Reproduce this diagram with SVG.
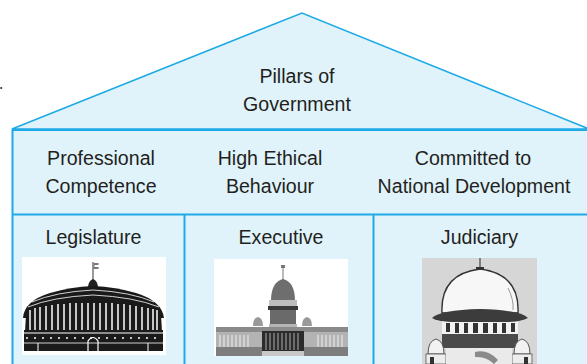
<svg xmlns="http://www.w3.org/2000/svg" width="587" height="364" viewBox="0 0 587 364">
<style>
.t{font-family:"Liberation Sans",Arial,sans-serif;font-size:19.6px;fill:#231f20;text-anchor:middle}
.frame{fill:#e0f3fb;stroke:#1eaae7;stroke-width:2}
.line{stroke:#1eaae7;stroke-width:2;fill:none}
</style>
<rect width="587" height="364" fill="#ffffff"/>
<circle cx="1.2" cy="88" r="1.1" fill="#333"/>
<g id="roof">
<polygon points="12,129 302,13 589,129" fill="#e0f3fb" stroke="#1eaae7" stroke-width="1.6"/>
<text class="t" x="297" y="83">Pillars of</text>
<text class="t" x="297" y="111">Government</text>
</g>
<g id="body">
<rect class="frame" x="12.5" y="130" width="580" height="240"/>
</g>
<g id="connectors">
<line class="line" x1="12" y1="214.5" x2="587" y2="214.5"/>
<line class="line" x1="184.5" y1="214" x2="184.5" y2="364"/>
<line class="line" x1="373.5" y1="214" x2="373.5" y2="364"/>
</g>
<g id="value-professional">
<text class="t" x="101" y="165">Professional</text>
<text class="t" x="101" y="193">Competence</text>
</g>
<g id="value-ethical">
<text class="t" x="270" y="165">High Ethical</text>
<text class="t" x="270" y="193">Behaviour</text>
</g>
<g id="value-committed">
<text class="t" x="473" y="165">Committed to</text>
<text class="t" x="474" y="193">National Development</text>
</g>
<g id="legislature">
<text class="t" x="93.5" y="244">Legislature</text>
<rect x="22" y="257" width="144" height="98" fill="#ffffff"/>
<line x1="93" y1="262" x2="93" y2="282" stroke="#555" stroke-width="1.2"/>
<path d="M93.5 263 h5 v2 h-4 v2 h4 v2 h-5 z" fill="#777"/>
<path d="M88 288 Q88 281 93 279 Q98 281 98 288 Z" fill="#222"/>
<path d="M23 318 Q24 301 50 293 Q70 287 93 286 Q116 287 136 293 Q162 301 164 318 Z" fill="#1a1a1a"/>
<path d="M32 302 Q55 292 93 290 Q131 292 154 302" stroke="#fff" stroke-width="0.8" fill="none"/>
<path d="M28 307 Q52 297 93 295 Q134 297 159 307" stroke="#fff" stroke-width="0.8" fill="none"/>
<path d="M26 314 Q28 305 93 302 Q158 305 161 314 L162 332 L25 332 Z" fill="#1a1a1a"/>
<g stroke="#fff" stroke-width="1.5">
<line x1="30" y1="310" x2="30" y2="330"/><line x1="35" y1="308" x2="35" y2="330"/><line x1="40" y1="307" x2="40" y2="330"/><line x1="46" y1="306" x2="46" y2="330"/><line x1="52" y1="305" x2="52" y2="330"/><line x1="58" y1="304" x2="58" y2="330"/><line x1="64" y1="304" x2="64" y2="330"/><line x1="70" y1="303" x2="70" y2="330"/><line x1="76" y1="303" x2="76" y2="330"/><line x1="82" y1="303" x2="82" y2="330"/><line x1="88" y1="303" x2="88" y2="330"/><line x1="94" y1="303" x2="94" y2="330"/><line x1="100" y1="303" x2="100" y2="330"/><line x1="106" y1="303" x2="106" y2="330"/><line x1="112" y1="303" x2="112" y2="330"/><line x1="118" y1="304" x2="118" y2="330"/><line x1="124" y1="304" x2="124" y2="330"/><line x1="130" y1="305" x2="130" y2="330"/><line x1="136" y1="306" x2="136" y2="330"/><line x1="142" y1="307" x2="142" y2="330"/><line x1="148" y1="308" x2="148" y2="330"/><line x1="153" y1="309" x2="153" y2="330"/><line x1="157" y1="310" x2="157" y2="330"/>
</g>
<rect x="24" y="330" width="139" height="21" fill="#1a1a1a"/>
<line x1="24" y1="333" x2="163" y2="333" stroke="#fff" stroke-width="1"/>
<line x1="26" y1="338" x2="161" y2="338" stroke="#fff" stroke-width="1.5" stroke-dasharray="2 6"/>
<line x1="24" y1="343" x2="163" y2="343" stroke="#fff" stroke-width="0.8"/>
<path d="M88 351 V341 Q93 334 98 341 V351" stroke="#fff" stroke-width="1.2" fill="none"/>
<line x1="38" y1="343" x2="38" y2="351" stroke="#fff" stroke-width="1"/>
<line x1="148" y1="343" x2="148" y2="351" stroke="#fff" stroke-width="1"/>
</g>
<g id="executive">
<text class="t" x="281" y="244">Executive</text>
<rect x="214" y="259" width="134" height="97" fill="#ffffff"/>
<line x1="283" y1="265" x2="283" y2="280" stroke="#777" stroke-width="1"/>
<path d="M281 265 h4 v3 h-4 z" fill="#777"/>
<path d="M271 301 Q271 282 283 279 Q295 282 295 301 Z" fill="#6e6e6e"/>
<rect x="269" y="300" width="28" height="6" fill="#bdbdbd"/>
<rect x="268" y="306" width="30" height="4" fill="#3a3a3a"/>
<rect x="270" y="310" width="26" height="14" fill="#6a6a6a"/>
<rect x="269" y="324" width="28" height="8" fill="#b5b5b5"/>
<path d="M253 326 Q253 318 258 317 Q263 318 263 326 Z" fill="#999"/>
<path d="M302 326 Q302 318 307 317 Q312 318 312 326 Z" fill="#999"/>
<rect x="216" y="327" width="132" height="5" fill="#8a8a8a"/>
<rect x="216" y="332" width="132" height="24" fill="#b3b3b3"/>
<g stroke="#f0f0f0" stroke-width="1">
<line x1="220" y1="335" x2="220" y2="347"/><line x1="224" y1="335" x2="224" y2="347"/><line x1="228" y1="335" x2="228" y2="347"/><line x1="232" y1="335" x2="232" y2="347"/><line x1="236" y1="335" x2="236" y2="347"/><line x1="240" y1="335" x2="240" y2="347"/><line x1="244" y1="335" x2="244" y2="347"/><line x1="248" y1="335" x2="248" y2="347"/>
<line x1="318" y1="335" x2="318" y2="347"/><line x1="322" y1="335" x2="322" y2="347"/><line x1="326" y1="335" x2="326" y2="347"/><line x1="330" y1="335" x2="330" y2="347"/><line x1="334" y1="335" x2="334" y2="347"/><line x1="338" y1="335" x2="338" y2="347"/><line x1="342" y1="335" x2="342" y2="347"/>
</g>
<rect x="216" y="347" width="132" height="9" fill="#7d7d7d"/>
<rect x="262" y="331" width="42" height="20" fill="#2b2b2b"/>
<g stroke="#9a9a9a" stroke-width="1.2">
<line x1="266" y1="333" x2="266" y2="350"/><line x1="270" y1="333" x2="270" y2="350"/><line x1="274" y1="333" x2="274" y2="350"/><line x1="278" y1="333" x2="278" y2="350"/><line x1="282" y1="333" x2="282" y2="350"/><line x1="286" y1="333" x2="286" y2="350"/><line x1="290" y1="333" x2="290" y2="350"/><line x1="294" y1="333" x2="294" y2="350"/><line x1="298" y1="333" x2="298" y2="350"/>
</g>
<rect x="262" y="351" width="42" height="5" fill="#c8c8c8"/>
</g>
<g id="judiciary">
<text class="t" x="479.5" y="244">Judiciary</text>
<rect x="422" y="258" width="115" height="106" fill="#d6d6d6"/>
<line x1="480" y1="258" x2="480" y2="268" stroke="#444" stroke-width="1.2"/>
<rect x="476" y="267" width="8" height="3" fill="#333"/>
<path d="M442 313 Q440 274 480 269 Q520 274 518 313 Z" fill="#f7f7f7" stroke="#333" stroke-width="1.4"/>
<path d="M508 288 Q514 300 513 310" stroke="#999" stroke-width="1" fill="none"/>
<path d="M432 318 Q440 310 480 309 Q520 310 528 318 Q520 323 480 323 Q440 323 432 318 Z" fill="#3c3c3c"/>
<rect x="442" y="322" width="76" height="12" fill="#f2f2f2"/>
<g fill="#333">
<rect x="446" y="323" width="4" height="9"/><rect x="455" y="323" width="4" height="10"/><rect x="464" y="323" width="4" height="10"/><rect x="473" y="323" width="5" height="10"/><rect x="483" y="323" width="5" height="10"/><rect x="493" y="323" width="4" height="10"/><rect x="502" y="323" width="4" height="10"/><rect x="511" y="323" width="4" height="9"/>
</g>
<rect x="442" y="334" width="76" height="14" fill="#4a4a4a"/>
<path d="M428 354 Q428 341 436 339 Q444 341 444 354 Z" fill="#f2f2f2" stroke="#555" stroke-width="1"/>
<path d="M514 354 Q514 341 522 339 Q530 341 530 354 Z" fill="#f2f2f2" stroke="#555" stroke-width="1"/>
<rect x="426" y="354" width="20" height="10" fill="#ededed" stroke="#555" stroke-width="0.8"/>
<rect x="512" y="354" width="20" height="10" fill="#ededed" stroke="#555" stroke-width="0.8"/>
<rect x="446" y="348" width="66" height="16" fill="#eaeaea"/>
<path d="M475 352 Q488 349 498 360 L494 364 Q486 356 475 357 Z" fill="#8a8a8a"/>
<rect x="430" y="357" width="4" height="7" fill="#333"/>
<rect x="524" y="357" width="4" height="7" fill="#333"/>
</g>
</svg>
